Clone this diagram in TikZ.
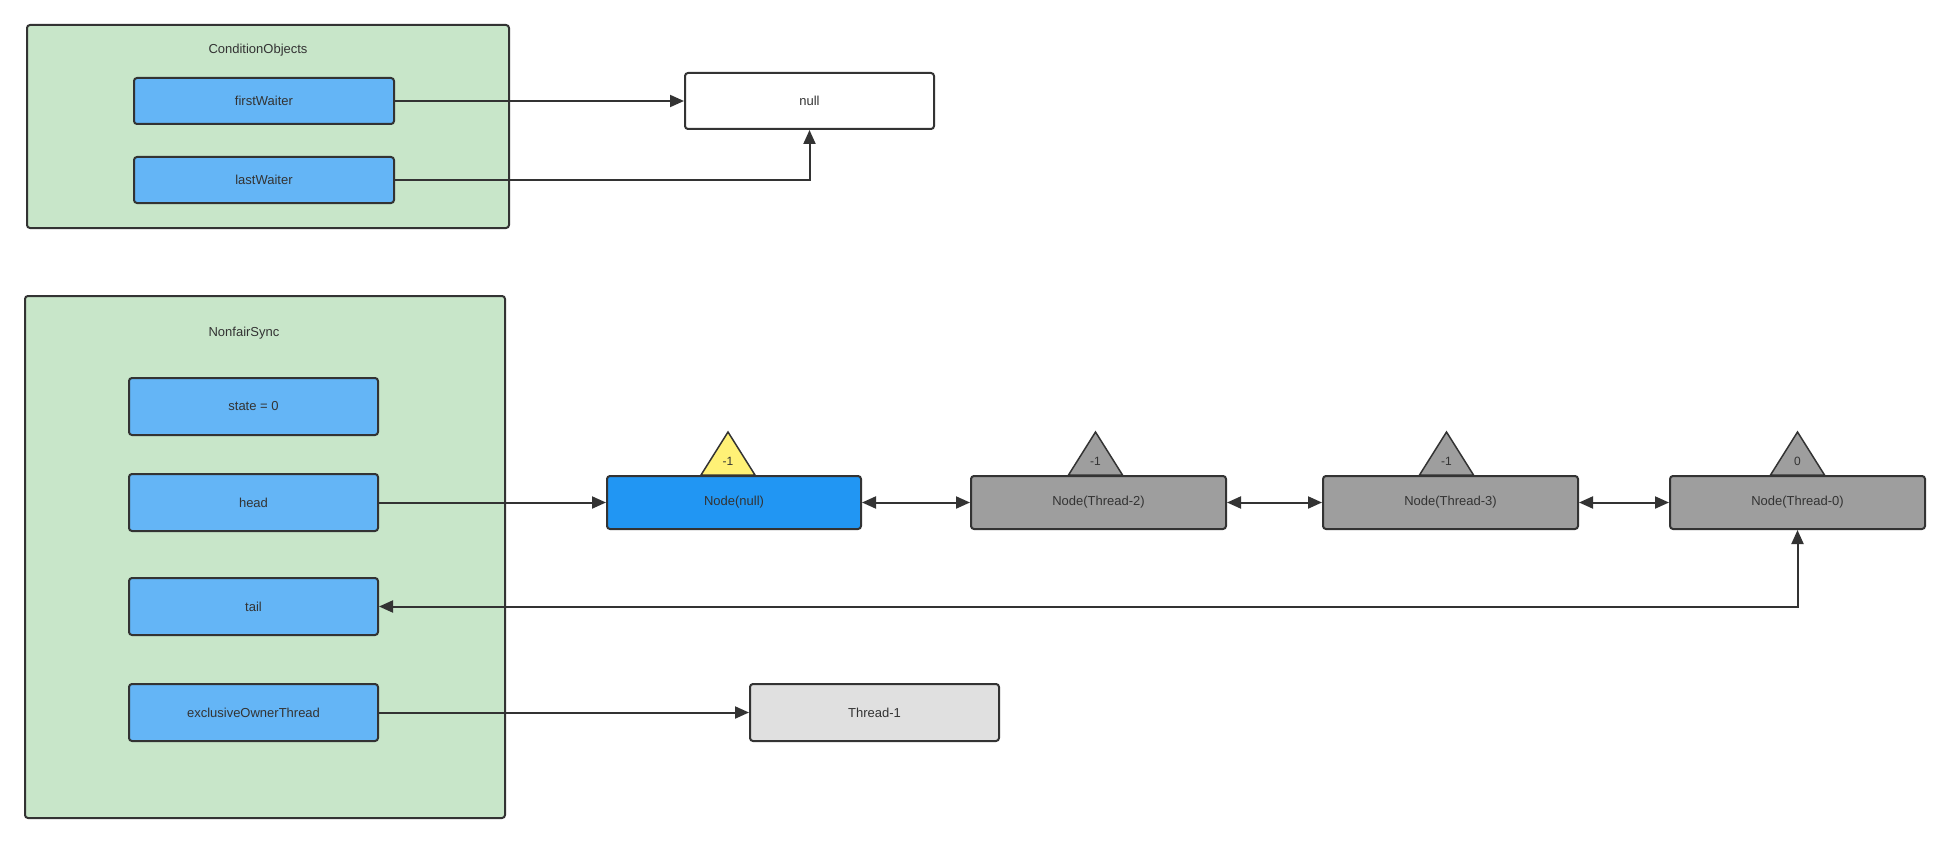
\documentclass[tikz,border=0pt]{standalone}
\usepackage{fontspec}
\setmainfont{Liberation Sans}
\usetikzlibrary{arrows.meta,calc}
\definecolor{edge}{HTML}{333333}
\definecolor{txt}{HTML}{333333}
\definecolor{panelgreen}{HTML}{C8E6C9}
\definecolor{fieldblue}{HTML}{64B5F6}
\definecolor{headblue}{HTML}{2196F3}
\definecolor{nodegray}{HTML}{9E9E9E}
\definecolor{threadgray}{HTML}{E0E0E0}
\definecolor{triyellow}{HTML}{FFF176}
\begin{document}
\begin{tikzpicture}[x=1pt,y=-1pt,
  every node/.style={text=txt, font=\fontsize{13}{15}\selectfont},
  panel/.style={draw=edge, line width=2pt, fill=panelgreen, rounded corners=3pt, inner sep=0pt},
  box/.style={draw=edge, line width=2pt, rounded corners=3pt, inner sep=0pt},
  field/.style={box, fill=fieldblue, minimum width=249pt, minimum height=57pt},
  qnode/.style={box, fill=nodegray, minimum width=255pt, minimum height=53pt},
  marker/.style={draw=edge, line width=1.5pt, line join=miter},
  link/.style={draw=edge, line width=2pt, -{Triangle[length=14pt,width=12pt]}},
  dlink/.style={draw=edge, line width=2pt, {Triangle[length=14pt,width=12pt]}-{Triangle[length=14pt,width=12pt]}},
]
\useasboundingbox (0,0) rectangle (1950,845);

% ConditionObjects panel
\node[panel, minimum width=482pt, minimum height=203pt] (cond) at (268,126.5) {};
\node (condtitle) at (258,50) {ConditionObjects};
\node[box, fill=fieldblue, minimum width=260pt, minimum height=46pt] (fw) at (264,101) {firstWaiter};
\node[box, fill=fieldblue, minimum width=260pt, minimum height=46pt] (lw) at (264,180) {lastWaiter};
\node[box, fill=white, minimum width=249pt, minimum height=56pt] (nullbox) at (809.5,101) {null};

% NonfairSync panel
\node[panel, minimum width=480pt, minimum height=522pt] (sync) at (265,557) {};
\node (synctitle) at (244,333) {NonfairSync};
\node[field] (state) at (253.5,406.5) {state = 0};
\node[field] (head) at (253.5,502.5) {head};
\node[field] (tail) at (253.5,606.5) {tail};
\node[field] (excl) at (253.5,712.5) {exclusiveOwnerThread};

% wait queue
\node[qnode, fill=headblue, minimum width=254pt] (qn) at (734,502.5) {Node(null)};
\node[qnode] (q2) at (1098.5,502.5) {Node(Thread-2)};
\node[qnode] (q3) at (1450.5,502.5) {Node(Thread-3)};
\node[qnode] (q0) at (1797.5,502.5) {Node(Thread-0)};

% owner thread
\node[box, fill=threadgray, minimum width=249pt, minimum height=57pt] (t1) at (874.5,712.5) {Thread-1};

% waitStatus markers on the queue nodes
\foreach \nd/\dx/\col/\val in {qn/-6/triyellow/-1, q2/-3/nodegray/-1, q3/-4/nodegray/-1, q0/0/nodegray/0} {
  \draw[marker, fill=\col] ($(\nd.north)+(\dx-27,0)$) -- ($(\nd.north)+(\dx,-43)$) -- ($(\nd.north)+(\dx+27,0)$) -- cycle;
  \node[font=\fontsize{12}{14}\selectfont] (\nd-ws) at ($(\nd.north)+(\dx,-14)$) {\val};
}

% connectors
\draw[link] (fw) -- (nullbox);
\draw[link] (lw.east) -| (nullbox.south);
\draw[link] (head) -- (qn);
\draw[dlink] (qn) -- (q2);
\draw[dlink] (q2) -- (q3);
\draw[dlink] (q3) -- (q0);
\draw[dlink] (q0.south) |- (tail.east);
\draw[link] (excl) -- (t1);
\end{tikzpicture}
\end{document}
